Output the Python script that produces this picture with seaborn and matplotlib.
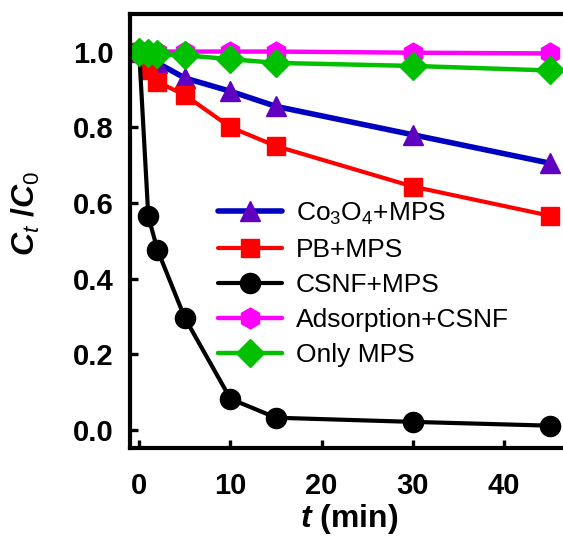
import seaborn as sns
import pandas as pd
import matplotlib.pyplot as plt

t = [0, 1, 2, 5, 10, 15, 30, 45]
co3o4_mps = [1.0, 0.98, 0.97, 0.93, 0.895, 0.855, 0.78, 0.705]
pb_mps = [1.0, 0.95, 0.92, 0.885, 0.80, 0.75, 0.643, 0.566]
csnf_mps = [1.0, 0.565, 0.476, 0.296, 0.082, 0.032, 0.021, 0.011]
adsorption = [1.0, 1.0, 1.0, 1.0, 1.0, 1.0, 0.997, 0.995]
only_mps = [1.0, 0.995, 0.993, 0.99, 0.98, 0.97, 0.962, 0.95]

labels = [r'Co$_3$O$_4$+MPS', 'PB+MPS', 'CSNF+MPS', 'Adsorption+CSNF', 'Only MPS']
series = [co3o4_mps, pb_mps, csnf_mps, adsorption, only_mps]
line_colors = ['#0000C0', '#FF0000', '#000000', '#FF00FF', '#00C000']
marker_colors = ['#6000C0', '#FF0000', '#000000', '#FF00FF', '#00C000']
markers = ['^', 's', 'o', 'h', 'D']
msizes = [14, 12.5, 14.5, 15, 14]
lwidths = [4.0, 3.0, 3.0, 3.2, 3.2]

sns.set_style('white')
plt.rcParams['font.family'] = ['Liberation Sans', 'DejaVu Sans']
plt.rcParams['text.color'] = 'black'
plt.rcParams['axes.labelcolor'] = 'black'
plt.rcParams['xtick.color'] = 'black'
plt.rcParams['ytick.color'] = 'black'
plt.rcParams['mathtext.fontset'] = 'custom'
plt.rcParams['mathtext.rm'] = 'Liberation Sans'
plt.rcParams['mathtext.it'] = 'Liberation Sans:italic'
plt.rcParams['mathtext.bf'] = 'Liberation Sans:bold'
plt.rcParams['mathtext.bfit'] = 'Liberation Sans:italic:bold'

fig = plt.figure(figsize=(5.63, 5.49), dpi=100)
ax = fig.add_axes([0.231, 0.184, 0.778, 0.791])

for lab, vals, lc, mc, mk, ms, lw in zip(labels, series, line_colors, marker_colors,
                                         markers, msizes, lwidths):
    df = pd.DataFrame({'t': t, 'c': vals})
    sns.lineplot(data=df, x='t', y='c', ax=ax, color=lc, lw=lw, marker=mk,
                 markersize=ms, markerfacecolor=mc, markeredgecolor=mc,
                 markeredgewidth=1, label=lab)

ax.set_xlim(-1, 47)
ax.set_ylim(-0.048, 1.10)
ax.set_xticks([0, 10, 20, 30, 40])
ax.set_yticks([0.0, 0.2, 0.4, 0.6, 0.8, 1.0])
ax.set_yticklabels(['0.0', '0.2', '0.4', '0.6', '0.8', '1.0'])
for s in ['left', 'top', 'bottom']:
    ax.spines[s].set_linewidth(3)
    ax.spines[s].set_color('black')
ax.spines['right'].set_visible(False)
ax.tick_params(axis='both', direction='in', length=6, width=2.4, labelsize=21,
               left=True, bottom=True)
ax.tick_params(axis='y', pad=12)
ax.tick_params(axis='x', pad=17)
for lbl in ax.get_xticklabels() + ax.get_yticklabels():
    lbl.set_fontweight('bold')

ax.set_xlabel(r'$\mathbfit{t}$ (min)', fontsize=23, fontweight='bold', labelpad=2)
ax.set_ylabel(r'$\mathbfit{C}_{\mathit{t}}$ /$\mathbfit{C}_{\mathit{0}}$', fontsize=23,
              fontweight='bold')
ax.yaxis.set_label_coords(-0.2, 0.54)

leg = ax.legend(loc='upper left', bbox_to_anchor=(0.2, 0.57), frameon=False,
                fontsize=19, handlelength=2.45, labelspacing=0.42, handletextpad=0.5,
                borderaxespad=0, borderpad=0)

plt.savefig('out.png', dpi=100)
